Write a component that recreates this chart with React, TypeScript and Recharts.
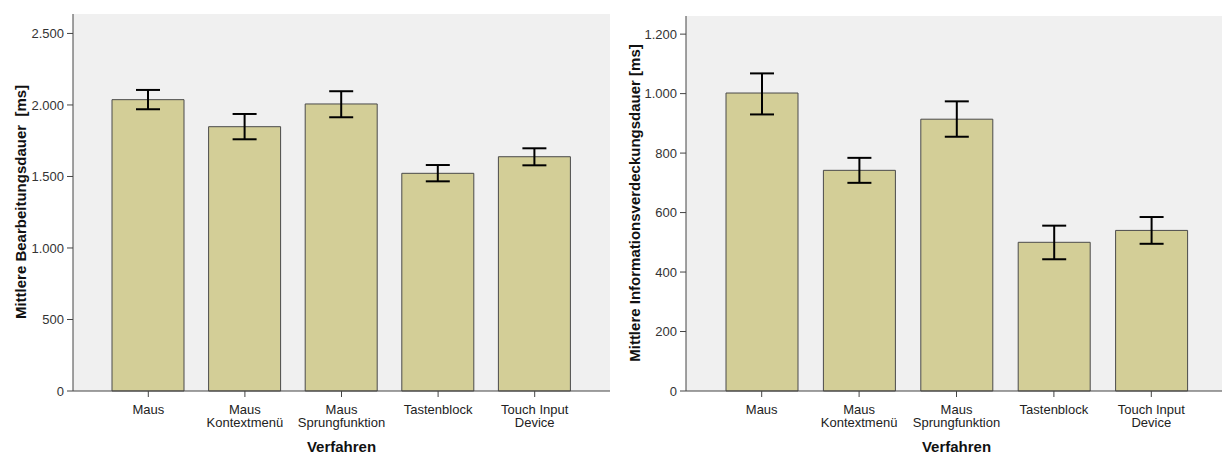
import { Bar, BarChart, CartesianGrid, ErrorBar, XAxis, YAxis } from "recharts";

const categories = [
  "Maus",
  "Maus\nKontextmenü",
  "Maus\nSprungfunktion",
  "Tastenblock",
  "Touch Input\nDevice",
];

// Mittlere Bearbeitungsdauer [ms]
const bearbMeans = [2037, 1848, 2007, 1522, 1638];
const bearbLow = [1970, 1760, 1914, 1466, 1578];
const bearbHigh = [2105, 1937, 2096, 1580, 1697];
const bearbTicks = [0, 500, 1000, 1500, 2000, 2500];

// Mittlere Informationsverdeckungsdauer [ms]
const infoMeans = [1002, 742, 914, 500, 540];
const infoLow = [930, 700, 855, 443, 495];
const infoHigh = [1068, 784, 974, 556, 585];
const infoTicks = [0, 200, 400, 600, 800, 1000, 1200];

const FONT = "Arial, 'Liberation Sans', sans-serif";
const AXIS = "#444";
const BAR_FILL = "#d3ce97";

const fmtDe = (v: number) => String(v).replace(/\B(?=(\d{3})+(?!\d))/g, ".");

const buildRows = (means: number[], low: number[], high: number[]) =>
  categories.map((name, i) => ({
    name,
    mean: means[i],
    err: [means[i] - low[i], high[i] - means[i]],
  }));

const CategoryTick = (props: any) => {
  const { x, y, payload } = props;
  const lines = String(payload.value).split("\n");
  return (
    <text x={x} y={y} textAnchor="middle" fontSize={13} fill="#222" fontFamily={FONT}>
      {lines.map((line, i) => (
        <tspan key={i} x={x} dy={i === 0 ? 15 : 13}>
          {line}
        </tspan>
      ))}
    </text>
  );
};

interface PanelProps {
  rows: { name: string; mean: number; err: number[] }[];
  yTitle: string;
  yTitleX: number;
  yTitleY: number;
  ticks: number[];
  yMax: number;
  width: number;
  top: number;
  yAxisWidth: number;
  rightMargin: number;
}

function Panel({ rows, yTitle, yTitleX, yTitleY, ticks, yMax, width, top, yAxisWidth, rightMargin }: PanelProps) {
  return (
    <BarChart
      width={width}
      height={454}
      data={rows}
      margin={{ top, right: rightMargin, bottom: 0, left: 0 }}
      style={{ fontFamily: FONT }}
    >
      <CartesianGrid fill="#f0f0f0" horizontal={false} vertical={false} />
      <XAxis
        dataKey="name"
        height={63}
        padding={{ left: 27, right: 27 }}
        interval={0}
        tickSize={6}
        tickLine={{ stroke: AXIS }}
        axisLine={{ stroke: AXIS }}
        tick={<CategoryTick />}
        label={{
          content: (p: any) => {
            const vb = p.viewBox;
            return (
              <text
                x={vb.x + vb.width / 2}
                y={452}
                textAnchor="middle"
                fontSize={15}
                fontWeight="bold"
                fill="#111"
                fontFamily={FONT}
              >
                Verfahren
              </text>
            );
          },
        }}
      />
      <XAxis xAxisId="frame" orientation="top" dataKey="name" height={0} tick={false} tickLine={false} axisLine={{ stroke: AXIS }} />
      <YAxis
        width={yAxisWidth}
        domain={[0, yMax]}
        ticks={ticks}
        interval={0}
        tickFormatter={fmtDe}
        tickSize={6}
        tickMargin={3}
        tick={{ fontSize: 13, fill: "#333", fontFamily: FONT }}
        tickLine={{ stroke: AXIS }}
        axisLine={{ stroke: AXIS }}
        label={{
          content: () => (
            <text
              x={yTitleX}
              y={yTitleY}
              transform={`rotate(-90 ${yTitleX} ${yTitleY})`}
              textAnchor="middle"
              dominantBaseline="central"
              fontSize={15}
              fontWeight="bold"
              fill="#111"
              fontFamily={FONT}
              style={{ whiteSpace: "pre" }}
            >
              {yTitle}
            </text>
          ),
        }}
      />
      <YAxis yAxisId="frame" orientation="right" width={0} domain={[0, yMax]} tick={false} tickLine={false} axisLine={{ stroke: AXIS }} />
      <Bar dataKey="mean" fill={BAR_FILL} stroke="#4a4a4a" strokeWidth={1} barSize={72} isAnimationActive={false}>
        <ErrorBar dataKey="err" width={12} stroke="#000" strokeWidth={2} isAnimationActive={false} />
      </Bar>
    </BarChart>
  );
}

export default function App() {
  const bearbRows = buildRows(bearbMeans, bearbLow, bearbHigh);
  const infoRows = buildRows(infoMeans, infoLow, infoHigh);

  return (
    <div
      style={{
        position: "absolute",
        left: 0,
        top: 0,
        width: 1222,
        height: 454,
        overflow: "hidden",
        background: "#fff",
      }}
    >
      <div style={{ position: "absolute", left: 0, top: 0 }}>
        <Panel
          rows={bearbRows}
          yTitle="Mittlere Bearbeitungsdauer  [ms]"
          yTitleX={20}
          yTitleY={202}
          ticks={bearbTicks}
          yMax={2636}
          width={620}
          top={14}
          yAxisWidth={73}
          rightMargin={10}
        />
      </div>
      <div style={{ position: "absolute", left: 600, top: 0 }}>
        <Panel
          rows={infoRows}
          yTitle="Mittlere Informationsverdeckungsdauer [ms]"
          yTitleX={34}
          yTitleY={203}
          ticks={infoTicks}
          yMax={1261}
          width={630}
          top={16}
          yAxisWidth={86}
          rightMargin={3}
        />
      </div>
    </div>
  );
}
